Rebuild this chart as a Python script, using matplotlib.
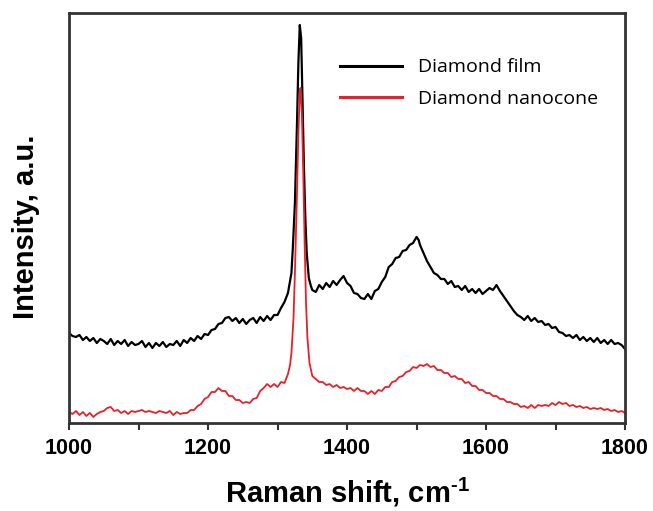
import numpy as np
import matplotlib
matplotlib.use("Agg")
import matplotlib.pyplot as plt

# Raman spectra (intensity in arbitrary units)
shift_film = [
    1000, 1005, 1010, 1015, 1020, 1025, 1030, 1035, 1040, 1045, 1050, 1055, 1060, 1065, 1070, 1075,
    1080, 1085, 1090, 1095, 1100, 1105, 1110, 1115, 1120, 1125, 1130, 1135, 1140, 1145, 1150, 1155,
    1160, 1165, 1170, 1175, 1180, 1185, 1190, 1195, 1200, 1205, 1210, 1215, 1220, 1225, 1230, 1235,
    1240, 1245, 1250, 1255, 1260, 1265, 1270, 1275, 1280, 1285, 1290, 1295, 1300, 1305, 1310, 1315,
    1320, 1322, 1325, 1328, 1330, 1332, 1334, 1336, 1338, 1340, 1342, 1345, 1348, 1350, 1355, 1360,
    1365, 1370, 1375, 1380, 1385, 1390, 1395, 1400, 1405, 1410, 1415, 1420, 1425, 1430, 1435, 1440,
    1445, 1450, 1455, 1460, 1465, 1470, 1475, 1480, 1485, 1490, 1495, 1500, 1503, 1505, 1510, 1515,
    1520, 1525, 1530, 1535, 1540, 1545, 1550, 1555, 1560, 1565, 1570, 1575, 1580, 1585, 1590, 1595,
    1600, 1605, 1610, 1615, 1620, 1625, 1630, 1635, 1640, 1645, 1650, 1655, 1660, 1665, 1670, 1675,
    1680, 1685, 1690, 1695, 1700, 1705, 1710, 1715, 1720, 1725, 1730, 1735, 1740, 1745, 1750, 1755,
    1760, 1765, 1770, 1775, 1780, 1785, 1790, 1795, 1800,
]
intensity_film = [
    90, 87, 86, 88, 83, 86, 82, 85, 80, 84, 82, 79, 84, 78, 82, 79,
    83, 77, 81, 78, 79, 82, 76, 80, 75, 80, 77, 81, 76, 79, 78, 82,
    77, 83, 80, 85, 82, 87, 84, 89, 88, 93, 94, 99, 100, 105, 106, 102,
    105, 100, 104, 99, 103, 105, 100, 106, 102, 107, 103, 108, 108, 115, 121, 130,
    150, 175, 220, 300, 360, 398, 385, 320, 256, 205, 170, 145, 137, 133, 131, 138,
    134, 140, 136, 142, 138, 143, 147, 140, 137, 130, 129, 125, 124, 129, 124, 132,
    134, 141, 146, 156, 159, 165, 166, 172, 173, 178, 180, 186, 183, 178, 170, 162,
    156, 150, 148, 144, 144, 139, 142, 136, 137, 133, 137, 131, 134, 130, 134, 129,
    132, 135, 133, 138, 132, 127, 122, 117, 112, 108, 106, 103, 107, 102, 105, 101,
    102, 98, 99, 95, 96, 91, 90, 87, 88, 85, 88, 83, 86, 82, 85, 81,
    85, 80, 83, 79, 83, 79, 80, 78, 74,
]

shift_cone = [
    1000, 1005, 1010, 1015, 1020, 1025, 1030, 1035, 1040, 1045, 1050, 1055, 1060, 1065, 1070, 1075,
    1080, 1085, 1090, 1095, 1100, 1105, 1110, 1115, 1120, 1125, 1130, 1135, 1140, 1145, 1150, 1155,
    1160, 1165, 1170, 1175, 1180, 1185, 1190, 1195, 1200, 1205, 1210, 1215, 1220, 1225, 1230, 1235,
    1240, 1245, 1250, 1255, 1260, 1265, 1270, 1275, 1280, 1285, 1290, 1295, 1300, 1305, 1310, 1315,
    1318, 1320, 1323, 1325, 1328, 1330, 1332, 1333, 1335, 1337, 1339, 1341, 1343, 1346, 1350, 1355,
    1360, 1365, 1370, 1375, 1380, 1385, 1390, 1395, 1400, 1405, 1410, 1415, 1420, 1425, 1430, 1435,
    1440, 1445, 1450, 1455, 1460, 1465, 1470, 1475, 1480, 1485, 1490, 1495, 1500, 1505, 1510, 1515,
    1520, 1525, 1530, 1535, 1540, 1545, 1550, 1555, 1560, 1565, 1570, 1575, 1580, 1585, 1590, 1595,
    1600, 1605, 1610, 1615, 1620, 1625, 1630, 1635, 1640, 1645, 1650, 1655, 1660, 1665, 1670, 1675,
    1680, 1685, 1690, 1695, 1700, 1705, 1710, 1715, 1720, 1725, 1730, 1735, 1740, 1745, 1750, 1755,
    1760, 1765, 1770, 1775, 1780, 1785, 1790, 1795, 1800,
]
intensity_cone = [
    11, 9, 12, 8, 11, 7, 10, 6, 9, 11, 12, 15, 16, 12, 13, 10,
    12, 9, 12, 11, 12, 13, 11, 12, 11, 10, 12, 11, 10, 12, 8, 11,
    9, 10, 10, 13, 13, 17, 19, 24, 26, 31, 31, 35, 32, 32, 27, 27,
    23, 23, 20, 21, 20, 24, 25, 32, 35, 39, 36, 39, 36, 41, 40, 49,
    58, 70, 105, 150, 230, 290, 330, 335, 310, 250, 180, 120, 85, 60, 47, 44,
    41, 41, 38, 39, 36, 38, 35, 36, 34, 35, 32, 35, 32, 32, 29, 32,
    29, 33, 32, 36, 36, 41, 42, 46, 47, 51, 52, 56, 55, 58, 57, 59,
    56, 57, 53, 53, 50, 50, 46, 47, 44, 44, 40, 41, 37, 37, 33, 33,
    30, 30, 27, 27, 24, 24, 21, 21, 19, 19, 16, 17, 15, 18, 15, 18,
    17, 18, 17, 20, 18, 21, 19, 20, 17, 18, 16, 17, 15, 16, 14, 15,
    14, 15, 13, 14, 12, 13, 11, 12, 10,
]

labels = ["Diamond film", "Diamond nanocone"]

plt.rcParams["font.family"] = ["Liberation Sans", "DejaVu Sans"]

fig = plt.figure(figsize=(6.53, 5.11), dpi=100)
ax = fig.add_axes([0.1057, 0.1722, 0.8515, 0.8024])

ax.plot(shift_film, intensity_film, color="black", lw=1.6, label=labels[0])
ax.plot(shift_cone, intensity_cone, color="#e8202a", lw=1.3, label=labels[1])

ax.set_xlim(1000, 1800)
ax.set_ylim(0, 410)
ax.set_xticks(np.arange(1000, 1801, 200))
ax.set_xticks(np.arange(1100, 1800, 200), minor=True)
ax.set_yticks([])
ax.tick_params(axis="x", which="both", direction="out", length=5, width=1.5,
               colors="#333333", labelcolor="black", labelsize=15.5, pad=6)
for lbl in ax.get_xticklabels():
    lbl.set_fontweight("bold")
for s in ax.spines.values():
    s.set_linewidth(2)
    s.set_color("#333333")

ax.set_xlabel("Raman shift, cm$^{\\mathregular{\u20101}}$", fontsize=21, fontweight="bold", labelpad=12)
ax.set_ylabel("Intensity, a.u.", fontsize=21, fontweight="bold")
ax.yaxis.set_label_coords(-0.052, 0.478)

leg = ax.legend(loc="upper left", bbox_to_anchor=(0.487, 0.889), frameon=False,
                prop={"family": "Open Sans", "size": 14}, handlelength=3.2,
                handletextpad=0.82, labelspacing=0.7, borderpad=0, borderaxespad=0)
for h in leg.legend_handles:
    h.set_linewidth(2.2)

fig.savefig("out.png", dpi=100)
